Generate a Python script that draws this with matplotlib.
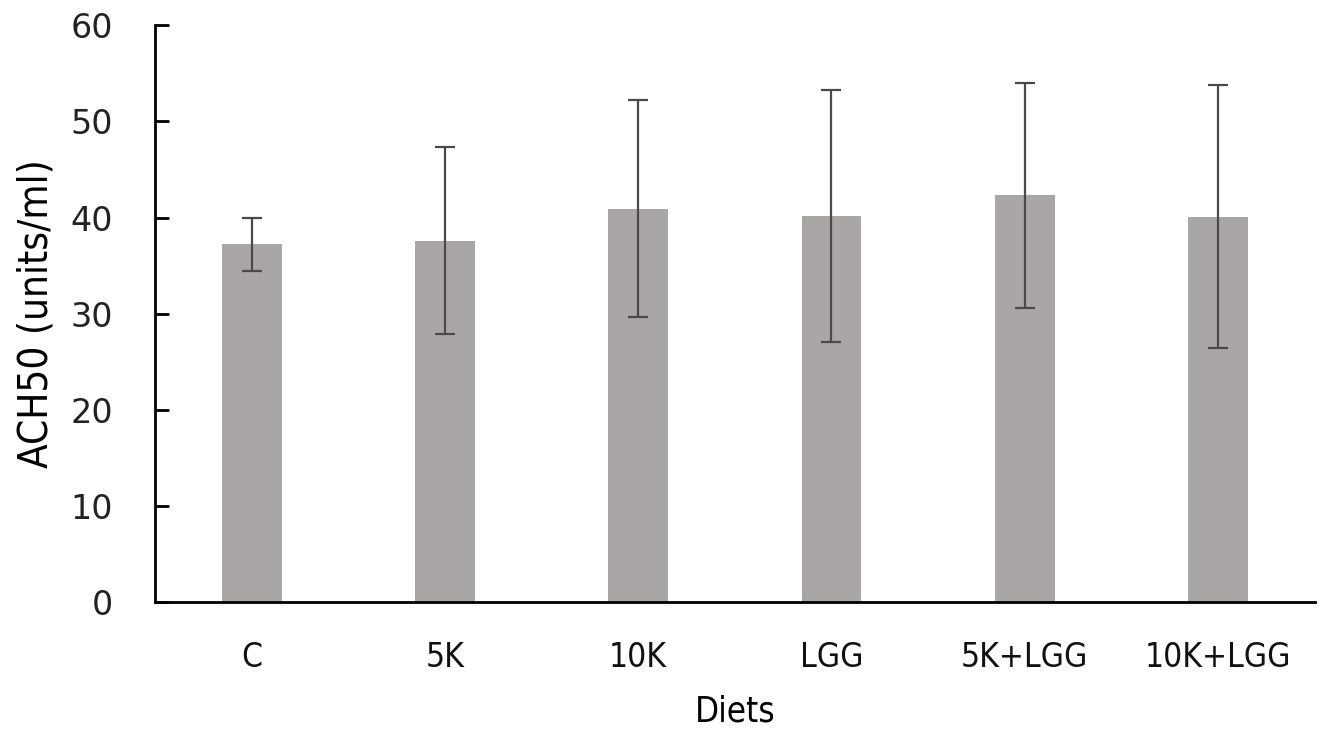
import matplotlib
matplotlib.use('Agg')
import matplotlib.pyplot as plt
import numpy as np

# data
diets = ['C', '5K', '10K', 'LGG', '5K+LGG', '10K+LGG']
ach50 = [37.2, 37.6, 40.9, 40.2, 42.3, 40.1]
ach50_sd = [2.8, 9.7, 11.3, 13.1, 11.7, 13.7]
y_ticks = [0, 10, 20, 30, 40, 50, 60]

fig = plt.figure(figsize=(13.24, 7.45), dpi=100)
ax = fig.add_axes([0.117, 0.192, 0.876, 0.774])

x = np.arange(len(diets))
ax.bar(x, ach50, width=0.31, color='#aaa6a5',
       yerr=ach50_sd, capsize=7,
       error_kw=dict(ecolor='#4a4a4a', elinewidth=1.6, capthick=1.6))

ax.set_xlim(-0.5, len(diets) - 0.5)
ax.set_ylim(0, 60)
ax.set_yticks(y_ticks)
ax.set_yticklabels([str(t) for t in y_ticks], fontsize=24, color='#222222',
                   family='DejaVu Sans')
ax.set_xticks(x)
# condensed face stands in for the narrow label font of the original
ax.set_xticklabels(diets, fontsize=24, family='DejaVu Sans', stretch='condensed',
                   color='#111111')

for s in ['top', 'right']:
    ax.spines[s].set_visible(False)
ax.spines['left'].set_linewidth(2)
ax.spines['bottom'].set_linewidth(2)
ax.tick_params(axis='y', direction='in', length=10, width=2, pad=30)
ax.tick_params(axis='x', length=0, pad=28)

ax.set_xlabel('Diets', fontsize=25, family='DejaVu Sans', stretch='condensed',
              labelpad=15)
ax.set_ylabel('ACH50 (units/ml)', fontsize=29, family='DejaVu Sans',
              stretch='condensed', labelpad=10)

fig.savefig('out.png', dpi=100)
